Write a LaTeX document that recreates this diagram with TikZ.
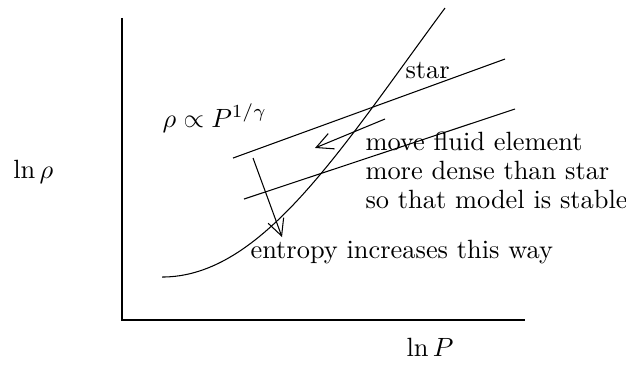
\documentclass[tikz,border=0pt]{standalone}
\usetikzlibrary{arrows.meta}
\begin{document}
\begin{tikzpicture}[
  rotulo/.style={inner sep=0pt, anchor=base west},
  seta/.style={-{Straight Barb[length=2.2mm,width=2.2mm]}, line width=0.4pt}]
\useasboundingbox (0,0) rectangle (8.338,4.995);
% ---- eixos
\coordinate (o) at (1.625,0.733);
\coordinate (ytop) at (1.625,4.756);
\coordinate (xend) at (6.993,0.733);
\draw (ytop) -- (o) -- (xend);
\node[rotulo] (lnrho) at (0.17,2.611) {$\ln\rho$};
\node[rotulo] (lnP) at (5.408,0.244) {$\ln P$};
% ---- perfil da estrela
\coordinate (s0) at (2.158,1.305);
\coordinate (s1) at (5.927,4.888);
\draw (s0) .. controls (3.490,1.305) and (4.529,2.997) .. (s1);
\node[rotulo] (star) at (5.395,3.943) {star};
% ---- adiabaticas
\coordinate (a1) at (3.104,2.890); \coordinate (a2) at (6.727,4.209);
\coordinate (b1) at (3.250,2.344); \coordinate (b2) at (6.860,3.543);
\draw (a1) -- (a2); \draw (b1) -- (b2);
\node[rotulo] (lei) at (2.158,3.303) {$\rho \propto P^{1/\gamma}$};
% ---- setas
\coordinate (m1) at (5.128,3.410); \coordinate (m2) at (4.196,3.024);
\draw[seta] (m1) -- (m2);
\coordinate (e1) at (3.370,2.890); \coordinate (e2) at (3.756,1.838);
\draw[seta] (e1) -- (e2);
\node[inner sep=0pt, anchor=north west, align=left, font=\fontsize{10}{11}\selectfont] (move) at (4.862,3.242) {move fluid element\\more dense than star\\so that model is stable};
\node[rotulo] (entropy) at (3.330,1.558) {entropy increases this way};
\end{tikzpicture}
\end{document}
